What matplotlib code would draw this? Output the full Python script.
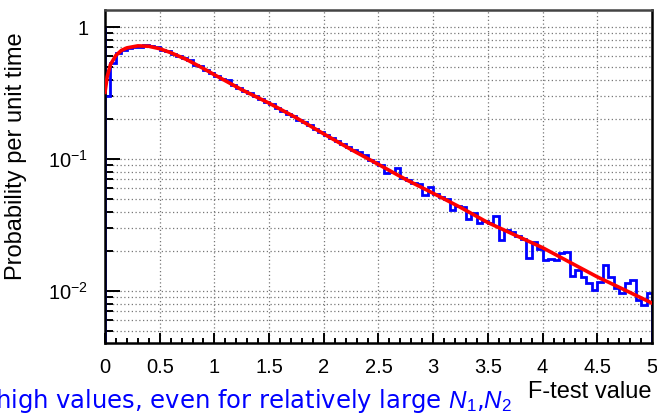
import numpy as np
import matplotlib.pyplot as plt
from matplotlib.ticker import FixedLocator, MultipleLocator, NullFormatter

plt.rcParams['font.family'] = ['Liberation Sans', 'DejaVu Sans']
plt.rcParams['mathtext.fontset'] = 'custom'
plt.rcParams['mathtext.rm'] = 'Liberation Sans'
plt.rcParams['mathtext.it'] = 'Liberation Sans:italic'

# ---------------------------------------------------------------
# histogram of F-test values, 100 bins of width 0.05 on [0, 5]
bin_edges = np.linspace(0, 5, 101)
counts = [
    0.30, 0.53, 0.635, 0.665, 0.69, 0.70, 0.71, 0.73, 0.72, 0.70,
    0.67, 0.655, 0.63, 0.60, 0.58, 0.56, 0.52, 0.505, 0.475, 0.45,
    0.425, 0.405, 0.40, 0.365, 0.345, 0.33, 0.315, 0.30, 0.285, 0.27,
    0.262, 0.245, 0.23, 0.22, 0.21, 0.198, 0.19, 0.18, 0.17, 0.16,
    0.152, 0.145, 0.138, 0.13, 0.124, 0.118, 0.113, 0.107, 0.099, 0.095,
    0.090, 0.078, 0.080, 0.085, 0.072, 0.069, 0.066, 0.065, 0.053, 0.061,
    0.054, 0.052, 0.050, 0.041, 0.044, 0.043, 0.035, 0.039, 0.033, 0.034,
    0.033, 0.037, 0.0245, 0.029, 0.028, 0.026, 0.025, 0.0178, 0.0235, 0.021,
    0.0172, 0.0175, 0.0172, 0.0195, 0.0198, 0.0131, 0.0145, 0.0128, 0.0115, 0.0102,
    0.0117, 0.0157, 0.0128, 0.0105, 0.0097, 0.0115, 0.0121, 0.0086, 0.0078, 0.0097,
]
hist_top = 1.0   # upper end of the left edge line of the histogram

# fitted F-distribution density
fit_x = [0.0, 0.02, 0.05, 0.1, 0.15, 0.2, 0.3, 0.4, 0.5, 0.6, 0.75, 0.9, 1.0,
         1.25, 1.5, 1.75, 2.0, 2.25, 2.5, 2.75, 3.0, 3.25, 3.5, 3.75, 4.0,
         4.25, 4.5, 4.75, 5.0]
fit_y = [0.32, 0.42, 0.52, 0.61, 0.665, 0.695, 0.72, 0.715, 0.685, 0.64, 0.565,
         0.485, 0.435, 0.335, 0.265, 0.205, 0.155, 0.118, 0.091, 0.070, 0.055,
         0.043, 0.033, 0.0265, 0.0213, 0.0165, 0.0128, 0.0102, 0.0081]

xticks = [0, 0.5, 1, 1.5, 2, 2.5, 3, 3.5, 4, 4.5, 5]
xticklabels = ['0', '0.5', '1', '1.5', '2', '2.5', '3', '3.5', '4', '4.5', '5']
yticks = [0.01, 0.1, 1]
yticklabels = [r'$10^{-2}$', r'$10^{-1}$', '1']

#----------------------------------------------------------------
fig = plt.figure(figsize=(6.57, 4.13), dpi=100)
ax = fig.add_axes([0.1598, 0.1695, 0.8326, 0.8063])

ax.set_yscale('log')
ax.set_xlim(0, 5)
ax.set_ylim(0.00404, 1.346)

# dotted grid on major x ticks and every log tick in y
minor_y = [m * 10.0**e for e in (-3, -2, -1) for m in range(2, 10)]
for xv in xticks[1:-1]:
    ax.axvline(xv, color='#777777', lw=0.9, ls=(0, (1, 2)), zorder=0)
for yv in yticks + minor_y:
    ax.axhline(yv, color='#777777', lw=0.9, ls=(0, (1, 2)), zorder=0)

ax.stairs(counts, bin_edges, color='#0000ff', lw=2.0, zorder=2)
ax.vlines(bin_edges[0], counts[0], hist_top, color='#0000ff', lw=2.0, zorder=2)
ax.plot(fit_x, fit_y, color='#ff0000', lw=2.6, zorder=3)

ax.set_xticks(xticks)
ax.set_xticklabels(xticklabels)
ax.xaxis.set_minor_locator(MultipleLocator(0.1))
ax.yaxis.set_major_locator(FixedLocator(yticks))
ax.set_yticklabels(yticklabels)
ax.yaxis.set_minor_locator(FixedLocator(minor_y))
ax.yaxis.set_minor_formatter(NullFormatter())

ax.tick_params(axis='both', which='both', direction='in', width=1.4,
               labelsize=14.5, colors='black')
ax.tick_params(axis='y', which='major', length=11, pad=12)
ax.tick_params(axis='y', which='minor', length=6)
ax.tick_params(axis='x', which='major', length=7, pad=11)
ax.tick_params(axis='x', which='minor', length=3.5)

for sp in ax.spines.values():
    sp.set_linewidth(1.8)
    sp.set_color('black')
ax.spines['top'].set_color('#444444')

ax.set_ylabel('Probability per unit time', fontsize=17)
ax.yaxis.set_label_coords(-0.142, 0.56)
fig.text(0.992, 0.025, 'F-test value', fontsize=17, ha='right', va='bottom')
fig.text(-0.008, -0.004, r'high values, even for relatively large $N_1$,$N_2$',
         fontsize=17.5, color='#0000ff', ha='left', va='bottom',
         family=['DejaVu Sans'])

fig.savefig('out.png', dpi=100)
